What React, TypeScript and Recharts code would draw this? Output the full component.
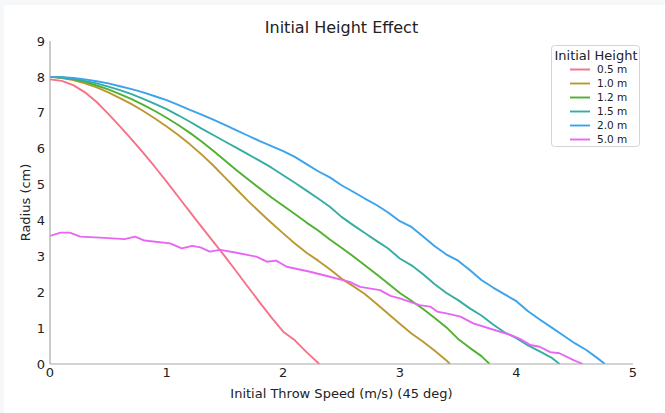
import React from "react";
import { LineChart, Line, XAxis, YAxis } from "recharts";

const TITLE = "Initial Height Effect";
const X_LABEL = "Initial Throw Speed (m/s) (45 deg)";
const Y_LABEL = "Radius (cm)";
const LEGEND_TITLE = "Initial Height";

const X_TICKS = [0, 1, 2, 3, 4, 5];
const Y_TICKS = [0, 1, 2, 3, 4, 5, 6, 7, 8, 9];

const HEIGHTS = ["0.5 m", "1.0 m", "1.2 m", "1.5 m", "2.0 m", "5.0 m"];
const COLORS = ["#f77189", "#bb9832", "#50b131", "#36ada4", "#3ba3ec", "#e866f4"];

const SPEED_05 = [0, 0.1, 0.2, 0.3, 0.4, 0.5, 0.6, 0.7, 0.8, 0.9, 1.0, 1.1, 1.2, 1.3, 1.4, 1.5, 1.6, 1.7, 1.8, 1.9, 2.0, 2.1, 2.2, 2.31];
const RADIUS_05 = [7.93, 7.89, 7.77, 7.57, 7.3, 6.97, 6.62, 6.26, 5.88, 5.49, 5.08, 4.66, 4.24, 3.82, 3.41, 3.0, 2.57, 2.14, 1.71, 1.29, 0.9, 0.66, 0.33, 0];

const SPEED_10 = [0, 0.1, 0.2, 0.3, 0.4, 0.5, 0.6, 0.7, 0.8, 0.9, 1.0, 1.1, 1.2, 1.3, 1.4, 1.5, 1.6, 1.7, 1.8, 1.9, 2.0, 2.1, 2.2, 2.3, 2.4, 2.5, 2.6, 2.7, 2.8, 2.9, 3.0, 3.1, 3.2, 3.3, 3.4, 3.43];
const RADIUS_10 = [8.0, 7.97, 7.91, 7.82, 7.71, 7.57, 7.41, 7.24, 7.05, 6.84, 6.62, 6.38, 6.12, 5.84, 5.53, 5.2, 4.87, 4.54, 4.23, 3.93, 3.64, 3.36, 3.1, 2.88, 2.64, 2.38, 2.17, 1.95, 1.68, 1.4, 1.12, 0.85, 0.62, 0.37, 0.1, 0];

const SPEED_12 = [0, 0.1, 0.2, 0.3, 0.4, 0.5, 0.6, 0.7, 0.8, 0.9, 1.0, 1.1, 1.2, 1.3, 1.4, 1.5, 1.6, 1.7, 1.8, 1.9, 2.0, 2.1, 2.2, 2.3, 2.4, 2.5, 2.6, 2.7, 2.8, 2.9, 3.0, 3.1, 3.2, 3.3, 3.4, 3.5, 3.6, 3.7, 3.77];
const RADIUS_12 = [8.0, 7.98, 7.93, 7.86, 7.76, 7.65, 7.52, 7.38, 7.22, 7.05, 6.86, 6.66, 6.44, 6.2, 5.94, 5.67, 5.4, 5.14, 4.89, 4.64, 4.41, 4.18, 3.94, 3.72, 3.47, 3.24, 3.0, 2.75, 2.5, 2.24, 1.98, 1.76, 1.53, 1.28, 1.02, 0.7, 0.45, 0.22, 0];

const SPEED_15 = [0, 0.1, 0.2, 0.3, 0.4, 0.5, 0.6, 0.7, 0.8, 0.9, 1.0, 1.1, 1.2, 1.3, 1.4, 1.5, 1.6, 1.7, 1.8, 1.9, 2.0, 2.1, 2.2, 2.3, 2.4, 2.5, 2.6, 2.7, 2.8, 2.9, 3.0, 3.1, 3.2, 3.3, 3.4, 3.5, 3.6, 3.7, 3.8, 3.9, 4.0, 4.1, 4.2, 4.3, 4.37];
const RADIUS_15 = [8.0, 7.99, 7.95, 7.89, 7.82, 7.73, 7.63, 7.52, 7.39, 7.25, 7.1, 6.93, 6.75, 6.56, 6.38, 6.2, 6.02, 5.84, 5.66, 5.47, 5.26, 5.05, 4.83, 4.61, 4.38, 4.1, 3.87, 3.65, 3.43, 3.22, 2.94, 2.75, 2.5, 2.22, 1.98, 1.78, 1.55, 1.35, 1.1, 0.88, 0.72, 0.52, 0.35, 0.18, 0];

const SPEED_20 = [0, 0.1, 0.2, 0.3, 0.4, 0.5, 0.6, 0.7, 0.8, 0.9, 1.0, 1.1, 1.2, 1.3, 1.4, 1.5, 1.6, 1.7, 1.8, 1.9, 2.0, 2.1, 2.2, 2.3, 2.4, 2.5, 2.6, 2.7, 2.8, 2.9, 3.0, 3.1, 3.2, 3.3, 3.4, 3.5, 3.6, 3.7, 3.8, 3.9, 4.0, 4.1, 4.2, 4.3, 4.4, 4.5, 4.6, 4.7, 4.76];
const RADIUS_20 = [8.0, 7.99, 7.97, 7.93, 7.88, 7.82, 7.74, 7.66, 7.57, 7.46, 7.35, 7.22, 7.08, 6.95, 6.81, 6.66, 6.51, 6.36, 6.21, 6.07, 5.93, 5.77, 5.57, 5.37, 5.2, 4.98, 4.8, 4.61, 4.43, 4.22, 3.98, 3.82, 3.55, 3.28, 3.05, 2.88, 2.62, 2.34, 2.13, 1.94, 1.75, 1.47, 1.24, 1.02, 0.8, 0.58, 0.39, 0.15, 0];

const SPEED_50 = [0, 0.09, 0.17, 0.26, 0.43, 0.64, 0.73, 0.81, 1.03, 1.13, 1.22, 1.29, 1.37, 1.46, 1.6, 1.77, 1.86, 1.94, 2.03, 2.23, 2.4, 2.57, 2.66, 2.83, 2.92, 3.0, 3.17, 3.26, 3.32, 3.4, 3.52, 3.63, 3.77, 3.95, 4.03, 4.12, 4.2, 4.29, 4.37, 4.49, 4.57];
const RADIUS_50 = [3.57, 3.66, 3.66, 3.55, 3.52, 3.48, 3.55, 3.44, 3.36, 3.22, 3.29, 3.25, 3.13, 3.18, 3.1, 2.99, 2.85, 2.88, 2.71, 2.57, 2.43, 2.29, 2.15, 2.06, 1.9, 1.83, 1.64, 1.6, 1.46, 1.41, 1.32, 1.13, 0.99, 0.81, 0.7, 0.53, 0.48, 0.33, 0.3, 0.11, 0];

const SPEEDS = [SPEED_05, SPEED_10, SPEED_12, SPEED_15, SPEED_20, SPEED_50];
const RADII = [RADIUS_05, RADIUS_10, RADIUS_12, RADIUS_15, RADIUS_20, RADIUS_50];

const SERIES = HEIGHTS.map((name, i) => ({
  name,
  color: COLORS[i],
  data: SPEEDS[i].map((v, j) => ({ v, r: RADII[i][j] })),
}));

const FONT = "'DejaVu Sans', sans-serif";
const W = 665;
const H = 413;
const PLOT = { left: 50, right: 633, top: 41, bottom: 364 };

export default function App() {
  const cx = (PLOT.left + PLOT.right) / 2;
  const cy = (PLOT.top + PLOT.bottom) / 2;
  return (
    <div style={{ position: "absolute", left: 0, top: 0, width: W, height: H, background: "#f6f7f9", overflow: "hidden" }}>
      <div style={{ position: "absolute", left: 4, top: 5, width: W - 4, height: H - 5, background: "#ffffff" }} />
      <div style={{ position: "absolute", left: 0, top: 0 }}>
        <LineChart
          width={W}
          height={H}
          margin={{ top: PLOT.top, right: W - PLOT.right, bottom: H - PLOT.bottom - 1, left: PLOT.left - 1 }}
        >
          <XAxis
            type="number"
            dataKey="v"
            domain={[0, 5]}
            ticks={X_TICKS}
            height={1}
            tickLine={false}
            tickSize={0}
            tickMargin={4}
            axisLine={{ stroke: "#a8a8a8", strokeWidth: 1.2 }}
            tick={{ fill: "#222", fontSize: 13, fontFamily: FONT }}
            allowDataOverflow
          />
          <YAxis
            type="number"
            domain={[0, 9]}
            ticks={Y_TICKS}
            width={1}
            tickLine={false}
            tickSize={0}
            tickMargin={5}
            axisLine={{ stroke: "#a8a8a8", strokeWidth: 1.2 }}
            tick={{ fill: "#222", fontSize: 13, fontFamily: FONT }}
            allowDataOverflow
          />
          {SERIES.map((s) => (
            <Line
              key={s.name}
              data={s.data}
              dataKey="r"
              name={s.name}
              type="linear"
              stroke={s.color}
              strokeWidth={1.9}
              dot={false}
              activeDot={false}
              isAnimationActive={false}
              strokeLinejoin="round"
            />
          ))}
        </LineChart>
      </div>
      <svg
        width={W}
        height={H}
        style={{ position: "absolute", left: 0, top: 0, pointerEvents: "none" }}
        fontFamily={FONT}
      >
        <text x={cx} y={33.3} textAnchor="middle" fontSize={16} fill="#222">{TITLE}</text>
        <text x={cx} y={398} textAnchor="middle" fontSize={13} fill="#222">{X_LABEL}</text>
        <text
          x={29.5}
          y={cy}
          textAnchor="middle"
          fontSize={13}
          fill="#222"
          transform={`rotate(-90, 29.5, ${cy})`}
        >
          {Y_LABEL}
        </text>
        <rect x={551.5} y={45.5} width={88} height={101} rx={3} ry={3} fill="#ffffff" fillOpacity={0.8} stroke="#d4d4d4" strokeWidth={1} />
        <text x={596} y={60} textAnchor="middle" fontSize={13} fill="#222">{LEGEND_TITLE}</text>
        {SERIES.map((s, i) => {
          const y = 69.5 + i * 14;
          return (
            <g key={s.name}>
              <line x1={570} x2={590} y1={y} y2={y} stroke={s.color} strokeWidth={1.9} />
              <text x={597} y={y + 3.8} fontSize={10.5} fill="#222">{s.name}</text>
            </g>
          );
        })}
      </svg>
    </div>
  );
}
